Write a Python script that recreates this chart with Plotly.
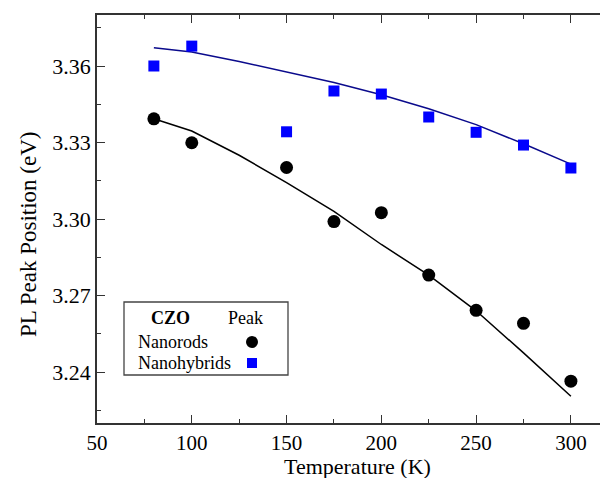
import plotly.graph_objects as go

# Data
temps = [80, 100, 150, 175, 200, 225, 250, 275, 300]
nanorods = [3.3393, 3.3299, 3.3202, 3.2990, 3.3025, 3.2780, 3.2642, 3.2591, 3.2364]
nanohybrids = [3.3600, 3.3678, 3.3342, 3.3502, 3.3490, 3.3400, 3.3340, 3.3290, 3.3200]

fit_temps = [80, 100, 125, 150, 175, 200, 225, 250, 275, 300]
nanorods_fit = [3.3393, 3.3345, 3.3250, 3.3143, 3.3030, 3.2900, 3.2780, 3.2640, 3.2475, 3.2305]
nanohybrids_fit = [3.3672, 3.3655, 3.3618, 3.3577, 3.3535, 3.3487, 3.3432, 3.3370, 3.3295, 3.3215]

x_ticks = [50, 100, 150, 200, 250, 300]
y_ticks = [3.24, 3.27, 3.30, 3.33, 3.36]

FONT = "Liberation Serif"
OFF = 8  # page body margin
W, H = 608 - OFF, 478 - OFF
L, R, T = 97 - OFF, 0, 15 - OFF
pw, ph = W - L - R, 408
B = H - T - ph

def px(x):  # screen pixel -> paper
    return (x - OFF - L) / pw

def py(y):
    return (T + ph - (y - OFF)) / ph

fig = go.Figure()
fig.add_trace(go.Scatter(x=fit_temps, y=nanohybrids_fit, mode="lines",
                         line=dict(color="#0a0a8c", width=1.5), showlegend=False))
fig.add_trace(go.Scatter(x=fit_temps, y=nanorods_fit, mode="lines",
                         line=dict(color="black", width=1.5), showlegend=False))
fig.add_trace(go.Scatter(x=temps, y=nanohybrids, mode="markers",
                         marker=dict(symbol="square", size=11, color="#0000ff"), showlegend=False))
fig.add_trace(go.Scatter(x=temps, y=nanorods, mode="markers",
                         marker=dict(symbol="circle", size=13, color="black"), showlegend=False))

axis_common = dict(
    showgrid=False, zeroline=False, showline=True, linecolor="#333", linewidth=1.5,
    ticks="inside", ticklen=8, tickwidth=1.3, tickcolor="#333", automargin=False,
)
fig.update_xaxes(range=[50, 50 + pw / 1.8956], tickvals=x_ticks, mirror="allticks",
                 tickfont=dict(family=FONT, size=21, color="black"),
                 minor=dict(ticks="inside", ticklen=4, tickcolor="#333", dtick=25, tick0=50),
                 **axis_common)
fig.update_yaxes(range=[3.22, 3.38], tickvals=y_ticks, tickformat=".2f", mirror=False,
                 tickfont=dict(family=FONT, size=22, color="black"),
                 minor=dict(ticks="inside", ticklen=4, tickcolor="#333", dtick=0.015, tick0=3.225),
                 **axis_common)

def ann(text, x, y, size, xanchor="center", angle=0):
    return dict(text=text, x=px(x), y=py(y), xref="paper", yref="paper",
                xanchor=xanchor, yanchor="middle", textangle=angle, showarrow=False,
                font=dict(family=FONT, size=size, color="black"))

annotations = [
    ann("Temperature (K)", 357, 466, 22),
    ann("PL Peak Position (eV)", 28, 234, 23, angle=-90),
    ann("<b>CZO</b>", 170, 318, 18),
    ann("Peak", 245, 318, 18),
    ann("Nanorods", 136, 342, 18, xanchor="left"),
    ann("Nanohybrids", 136, 363, 18, xanchor="left"),
]

shapes = [
    dict(type="rect", xref="paper", yref="paper", x0=px(124), x1=px(288), y0=py(375), y1=py(302),
         line=dict(color="#444", width=1.3), fillcolor="white", layer="below"),
    dict(type="circle", xref="paper", yref="paper", x0=px(246), x1=px(258), y0=py(348), y1=py(336),
         line=dict(color="black", width=0), fillcolor="black"),
    dict(type="rect", xref="paper", yref="paper", x0=px(247), x1=px(257), y0=py(368), y1=py(358),
         line=dict(color="#0000ff", width=0), fillcolor="#0000ff"),
]

fig.update_layout(
    width=W, height=H, margin=dict(l=L, r=R, t=T, b=B, pad=0, autoexpand=False),
    plot_bgcolor="white", paper_bgcolor="white",
    annotations=annotations, shapes=shapes,
    font=dict(family=FONT, color="black"),
)

fig.write_html("out.html")
